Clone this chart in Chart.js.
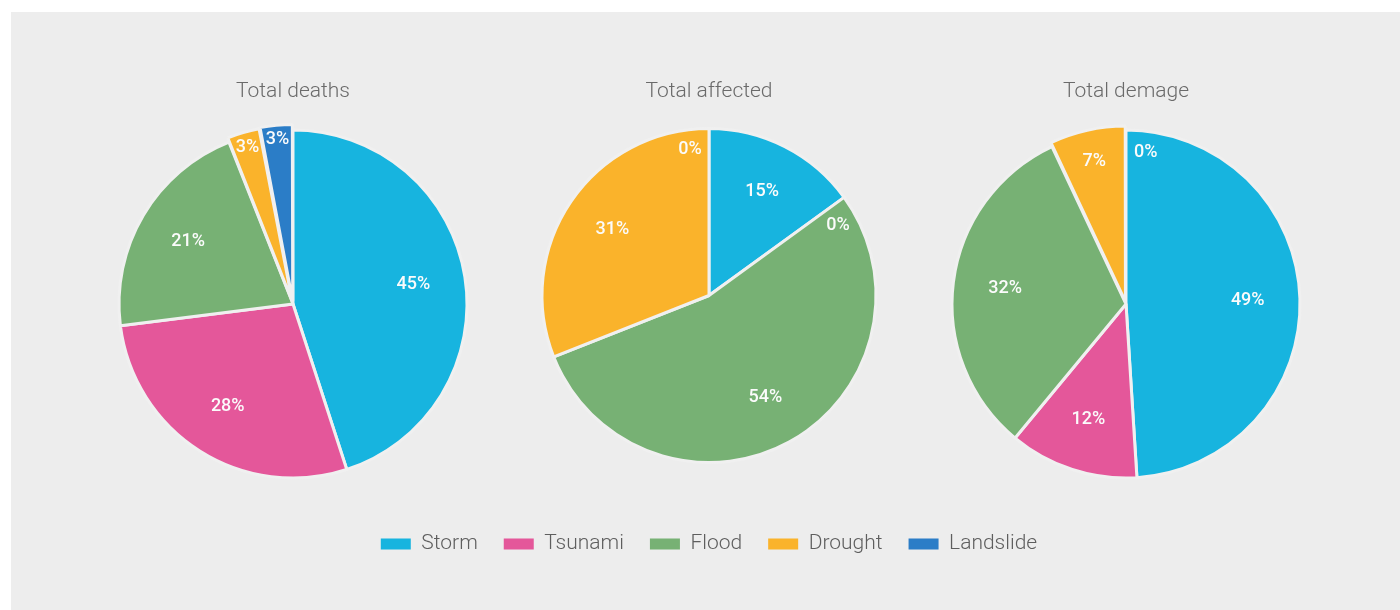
<!DOCTYPE html>
<html>
<head>
<meta charset="utf-8">
<script src="https://cdn.jsdelivr.net/npm/chart.js@4.4.1/dist/chart.umd.min.js"></script>
<style>
  html, body { margin: 0; padding: 0; background: #ffffff; width: 1400px; height: 610px; overflow: hidden; }
  #panel { position: absolute; left: 11px; top: 12px; width: 1389px; height: 598px; background: #ededed; }
  canvas { position: absolute; }
</style>
</head>
<body>
<div id="panel"></div>
<canvas id="c1" width="400" height="520" style="left:93px;top:60px"></canvas>
<canvas id="c2" width="800" height="520" style="left:309px;top:60px"></canvas>
<canvas id="c3" width="400" height="520" style="left:926px;top:60px"></canvas>
<script>
// ---- data ----
const categories = ['Storm', 'Tsunami', 'Flood', 'Drought', 'Landslide'];
const deathsPct = [45, 28, 21, 3, 3];
const affectedPct = [15, 0, 54, 31, 0];
const damagePct = [49, 12, 32, 7, 0];
const chartTitles = ['Total deaths', 'Total affected', 'Total demage'];

// ---- styles ----
const sliceColors = ['#17b4df', '#e4579a', '#77b174', '#fab32b', '#2b7dc7'];

Chart.defaults.font.family = 'Roboto';
Chart.defaults.animation = false;

const pctLabels = {
  id: 'pctLabels',
  afterDatasetsDraw(chart) {
    const meta = chart.getDatasetMeta(0);
    const vals = chart.data.datasets[0].data;
    const n = vals.length;
    const total = vals.reduce((a, b) => a + b, 0);
    const ctx = chart.ctx;
    ctx.save();
    ctx.font = '500 18px Roboto';
    ctx.fillStyle = '#fbfbfb';
    ctx.textAlign = 'center';
    ctx.textBaseline = 'middle';
    meta.data.forEach((arc, i) => {
      const p = arc.getProps(['x', 'y', 'startAngle', 'endAngle', 'outerRadius'], true);
      const pct = Math.round(vals[i] / total * 100);
      let ang = (p.startAngle + p.endAngle) / 2;
      if (vals[i] === 0) {
        const prev = vals[(i - 1 + n) % n], next = vals[(i + 1) % n];
        ang += (next >= prev ? 1 : -1) * 0.13;
      }
      const ratio = pct >= 10 ? 0.7 : (pct >= 5 ? 0.78 : 0.88);
      const off = (arc.options && arc.options.offset) || 0;
      const d = p.outerRadius * ratio + off;
      ctx.fillText(pct + '%', p.x + Math.cos(ang) * d, p.y + Math.sin(ang) * d);
    });
    ctx.restore();
  }
};

const baseGen = Chart.overrides.doughnut.plugins.legend.labels.generateLabels;

function makePie(id, title, values, opts) {
  return new Chart(document.getElementById(id), {
    type: 'pie',
    data: {
      labels: categories,
      datasets: [{
        data: values,
        backgroundColor: sliceColors,
        borderColor: '#f0f0f0',
        borderWidth: 3,
        offset: opts.offset,
        radius: opts.radius
      }]
    },
    options: {
      responsive: false,
      devicePixelRatio: 1,
      events: [],
      layout: { padding: { bottom: opts.padBottom } },
      plugins: {
        tooltip: { enabled: false },
        title: {
          display: true,
          text: title,
          color: '#6a6a6a',
          font: { family: 'Roboto', size: 21, weight: '300' },
          padding: { top: 19.4, bottom: opts.titleGap }
        },
        legend: {
          display: opts.legend,
          position: 'bottom',
          labels: {
            boxWidth: 30,
            boxHeight: 11,
            padding: 26,
            color: '#5e5e5e',
            font: { family: 'Roboto', size: 21, weight: '300' },
            generateLabels: (chart) => baseGen(chart).map(l => Object.assign({}, l, { lineWidth: 0, strokeStyle: 'rgba(0,0,0,0)' }))
          }
        }
      }
    },
    plugins: [pctLabels]
  });
}

makePie('c1', chartTitles[0], deathsPct, { offset: [0, 0, 0, 10, 12], radius: 174, padBottom: 76.6, titleGap: 0, legend: false });
makePie('c2', chartTitles[1], affectedPct, { offset: [0, 0, 0, 0, 0], radius: 167, padBottom: 15.5, titleGap: -21.1, legend: true });
makePie('c3', chartTitles[2], damagePct, { offset: [0, 0, 0, 10, 0], radius: 174, padBottom: 76.6, titleGap: 0, legend: false });
</script>
</body>
</html>
